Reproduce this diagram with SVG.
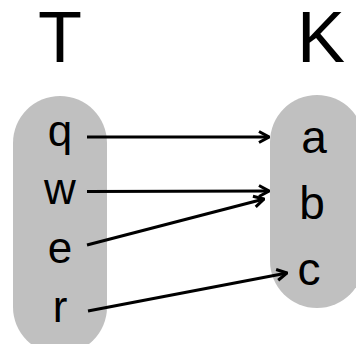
<svg xmlns="http://www.w3.org/2000/svg" width="356" height="344" viewBox="0 0 356 344">
<style>
.set{fill:#c0c0c0;}
.title{font-family:"Liberation Sans",Arial,sans-serif;font-size:72px;fill:#000;text-anchor:middle;}
.lbl{font-family:"Liberation Sans",Arial,sans-serif;font-size:44px;fill:#000;text-anchor:middle;}
.lbr{font-family:"Liberation Sans",Arial,sans-serif;font-size:46px;fill:#000;text-anchor:middle;}
.edge{stroke:#000;stroke-width:3;fill:none;marker-end:url(#arr);}
</style>
<defs>
<marker id="arr" viewBox="0 0 12 14" refX="11" refY="7" markerWidth="12" markerHeight="14" markerUnits="userSpaceOnUse" orient="auto">
<path d="M1,1.5 L11,7 L1,12.5" fill="none" stroke="#000" stroke-width="3"/>
</marker>
</defs>
<g id="setT">
<rect class="set" x="13" y="96" width="94" height="258" rx="47" ry="47"/>
<text class="title" x="60" y="62">T</text>
</g>
<g id="setK">
<rect class="set" x="270" y="95" width="94" height="213" rx="47" ry="47"/>
<text class="title" x="321" y="62">K</text>
</g>
<g id="q"><text class="lbl" x="60" y="146">q</text></g>
<g id="w"><text class="lbl" x="60" y="204">w</text></g>
<g id="e"><text class="lbl" x="60" y="263">e</text></g>
<g id="r"><text class="lbl" x="60" y="322">r</text></g>
<g id="a"><text class="lbr" x="314" y="153">a</text></g>
<g id="b"><text class="lbr" x="312" y="219">b</text></g>
<g id="c"><text class="lbr" x="309" y="285">c</text></g>
<g id="connectors">
<line class="edge" x1="87" y1="137" x2="269" y2="137"/>
<line class="edge" x1="87" y1="191.5" x2="269" y2="191"/>
<line class="edge" x1="87" y1="245" x2="264" y2="199"/>
<line class="edge" x1="88" y1="311" x2="287" y2="273"/>
</g>
</svg>
